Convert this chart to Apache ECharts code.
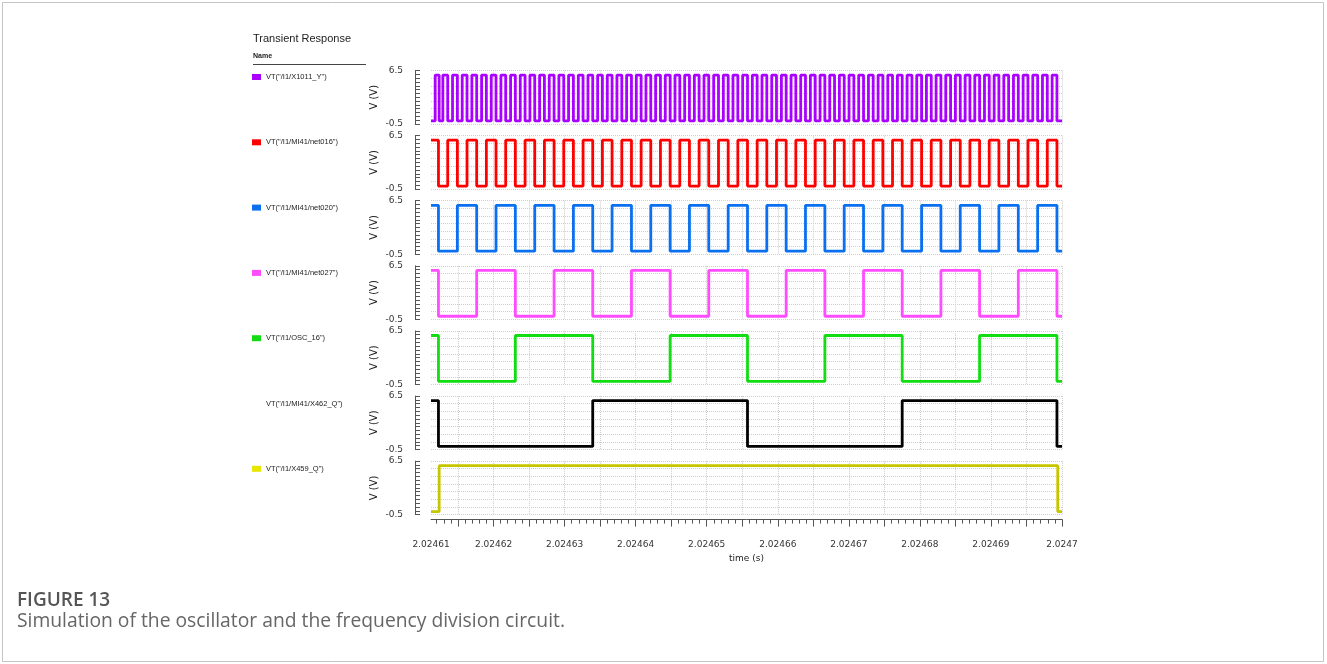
<!DOCTYPE html>
<html>
<head>
<meta charset="utf-8">
<title>Transient Response</title>
<script src="https://cdn.jsdelivr.net/npm/echarts@6/dist/echarts.min.js"></script>
<style>
  html, body { margin: 0; padding: 0; background: #ffffff; }
  #chart { width: 1327px; height: 664px; }
</style>
</head>
<body>
<div id="chart"></div>
<script>
// Time is stored in microseconds after 2.0246 s.
const TIME_ORIGIN_US = 2024600;
const timeRangeUs = [11.2, 100];
const timeLabelUs = [11.2, 20, 30, 40, 50, 60, 70, 80, 90, 100];
const timeMajorTickUs = [15, 20, 25, 30, 35, 40, 45, 50, 55, 60, 65, 70, 75, 80, 85, 90, 95, 100];
const voltRange = [-0.5, 6.5];
const voltLabels = [-0.5, 6.5];
const logicLow = -0.1;
const logicHigh = 5.9;

const signalNames = [
  'VT("/I1/X1011_Y")',
  'VT("/I1/MI41/net016")',
  'VT("/I1/MI41/net020")',
  'VT("/I1/MI41/net027")',
  'VT("/I1/OSC_16")',
  'VT("/I1/MI41/X462_Q")',
  'VT("/I1/X459_Q")'
];

// Level at the left edge of the window (1 = high, 0 = low)
const startLevels = [0, 1, 1, 1, 1, 1, 0];

// Switching instants (µs after 2.0246 s) of each waveform
const x1011Y = [11.79, 12.35, 12.87, 13.55, 14.23, 14.91, 15.59, 16.27, 16.95, 17.63, 18.32, 18.99,
  19.68, 20.35, 21.04, 21.71, 22.40, 23.07, 23.76, 24.44, 25.12, 25.80, 26.48, 27.16, 27.84, 28.52,
  29.20, 29.88, 30.56, 31.24, 31.93, 32.60, 33.29, 33.96, 34.65, 35.32, 36.01, 36.68, 37.37, 38.05,
  38.73, 39.41, 40.09, 40.77, 41.45, 42.13, 42.81, 43.49, 44.17, 44.85, 45.54, 46.21, 46.90, 47.57,
  48.26, 48.93, 49.62, 50.29, 50.98, 51.66, 52.34, 53.02, 53.70, 54.38, 55.06, 55.74, 56.42, 57.10,
  57.78, 58.46, 59.15, 59.82, 60.51, 61.18, 61.87, 62.54, 63.23, 63.90, 64.59, 65.27, 65.95, 66.63,
  67.31, 67.99, 68.67, 69.35, 70.03, 70.71, 71.39, 72.07, 72.76, 73.43, 74.12, 74.79, 75.48, 76.15,
  76.84, 77.51, 78.20, 78.88, 79.56, 80.24, 80.92, 81.60, 82.28, 82.96, 83.64, 84.32, 85.00, 85.68,
  86.37, 87.04, 87.73, 88.40, 89.09, 89.76, 90.45, 91.12, 91.81, 92.49, 93.17, 93.85, 94.53, 95.21,
  95.89, 96.57, 97.25, 97.93, 98.61, 99.29];
const net016 = [12.25, 13.55, 14.91, 16.27, 17.63, 18.99, 20.35, 21.71, 23.07, 24.44, 25.80, 27.16,
  28.52, 29.88, 31.24, 32.60, 33.96, 35.32, 36.68, 38.05, 39.41, 40.77, 42.13, 43.49, 44.85, 46.21,
  47.57, 48.93, 50.29, 51.66, 53.02, 54.38, 55.74, 57.10, 58.46, 59.82, 61.18, 62.54, 63.90, 65.27,
  66.63, 67.99, 69.35, 70.71, 72.07, 73.43, 74.79, 76.15, 77.51, 78.88, 80.24, 81.60, 82.96, 84.32,
  85.68, 87.04, 88.40, 89.76, 91.12, 92.49, 93.85, 95.21, 96.57, 97.93, 99.29];
const net020 = [12.25, 14.91, 17.63, 20.35, 23.07, 25.80, 28.52, 31.24, 33.96, 36.68, 39.41, 42.13,
  44.85, 47.57, 50.29, 53.02, 55.74, 58.46, 61.18, 63.90, 66.63, 69.35, 72.07, 74.79, 77.51, 80.24,
  82.96, 85.68, 88.40, 91.12, 93.85, 96.57, 99.29];
const net027 = [12.25, 17.63, 23.07, 28.52, 33.96, 39.41, 44.85, 50.29, 55.74, 61.18, 66.63, 72.07,
  77.51, 82.96, 88.40, 93.85, 99.29];
const osc16 = [12.25, 23.07, 33.96, 44.85, 55.74, 66.63, 77.51, 88.40, 99.29];
const x462Q = [12.25, 33.96, 55.74, 77.51, 99.29];
const x459Q = [12.35, 99.40];

const switchTimes = [x1011Y, net016, net020, net027, osc16, x462Q, x459Q];

const traceColors = ['#aa00ff', '#ff0000', '#0a70f0', '#ff4cff', '#12dd12', '#000000', '#c6c600'];
const keyColors = ['#aa00ff', '#ff0000', '#0a70f0', '#ff4cff', '#12dd12', 'rgba(0,0,0,0)', '#e6e600'];

// Turn a list of switching instants into a square-wave polyline.
function squareWave(startLevel, times) {
  let lvl = startLevel ? logicHigh : logicLow;
  const pts = [[timeRangeUs[0], lvl]];
  times.forEach(function (t) {
    pts.push([t, lvl]);
    lvl = (lvl === logicHigh) ? logicLow : logicHigh;
    pts.push([t, lvl]);
  });
  pts.push([timeRangeUs[1], lvl]);
  return pts;
}

function timeLabel(v) {
  return ((TIME_ORIGIN_US + v) / 1e6).toFixed(5).replace(/0+$/, '');
}

const minorTickUs = [];
for (let t = Math.ceil(timeRangeUs[0]); t <= timeRangeUs[1]; t += 1) minorTickUs.push(t);

const PANEL_TOP = 70.5, PANEL_STEP = 65.1, PANEL_H = 53.5;
const AXIS_FONT = 'DejaVu Sans';
const axisInk = '#555555';
const gridInk = '#cfcfcf';

const grids = [], xAxes = [], yAxes = [], series = [];
signalNames.forEach(function (name, i) {
  const last = i === signalNames.length - 1;
  grids.push({ left: 431, right: 265, top: PANEL_TOP + PANEL_STEP * i, height: PANEL_H });
  xAxes.push({
    gridIndex: i, type: 'value', position: 'bottom', min: timeRangeUs[0], max: timeRangeUs[1],
    offset: last ? 5 : 0,
    axisLine: { show: last, onZero: false, lineStyle: { color: axisInk, width: 1 } },
    axisTick: { show: last, customValues: timeMajorTickUs, length: 7, lineStyle: { color: axisInk } },
    axisLabel: {
      show: last, customValues: timeLabelUs, formatter: timeLabel, margin: 21,
      fontSize: 9, fontFamily: AXIS_FONT, color: '#333'
    },
    splitLine: { show: true, lineStyle: { type: 'dotted', color: gridInk, width: 1 } },
    name: last ? 'time (s)' : '', nameLocation: 'middle', nameGap: 35,
    nameTextStyle: { fontSize: 9, fontFamily: AXIS_FONT, color: '#222' }
  });
  yAxes.push({
    gridIndex: i, type: 'value', min: voltRange[0], max: voltRange[1], interval: 1,
    offset: 16,
    axisLine: { show: true, onZero: false, lineStyle: { color: axisInk, width: 1 } },
    axisTick: { show: true, inside: true, length: 5, lineStyle: { color: axisInk } },
    minorTick: { show: true, splitNumber: 2, length: 5, lineStyle: { color: axisInk } },
    axisLabel: {
      formatter: function (v) { return voltLabels.indexOf(v) >= 0 ? String(v) : ''; },
      margin: 12, fontSize: 9, fontFamily: AXIS_FONT, color: '#333'
    },
    splitLine: { show: true, lineStyle: { type: 'dotted', color: gridInk, width: 1 } },
    name: 'V (V)', nameLocation: 'middle', nameGap: 36, nameRotate: 90,
    nameTextStyle: { fontSize: 10, fontFamily: AXIS_FONT, color: '#222' }
  });
  series.push({
    name: name, type: 'line', xAxisIndex: i, yAxisIndex: i,
    data: squareWave(startLevels[i], switchTimes[i]),
    showSymbol: false, symbol: 'none', animation: false,
    lineStyle: { color: traceColors[i], width: 2.8 },
    itemStyle: { color: traceColors[i] }
  });
});

// Minor time ticks under the bottom panel
xAxes.push({
  gridIndex: signalNames.length - 1, type: 'value', position: 'bottom',
  min: timeRangeUs[0], max: timeRangeUs[1],
  offset: 5,
  axisLine: { show: false, onZero: false },
  axisTick: { show: true, customValues: minorTickUs, length: 4, lineStyle: { color: axisInk } },
  axisLabel: { show: false },
  splitLine: { show: false }
});

const chart = echarts.init(document.getElementById('chart'), null, { renderer: 'canvas' });
chart.setOption({
  backgroundColor: '#ffffff',
  animation: false,
  grid: grids,
  xAxis: xAxes,
  yAxis: yAxes,
  series: series,
  legend: {
    orient: 'vertical', left: 252, top: 73, padding: 0,
    itemWidth: 9, itemHeight: 6, itemGap: 57.3, icon: 'rect', selectedMode: false,
    textStyle: { fontSize: 7.5, lineHeight: 8, color: '#222', fontFamily: 'Liberation Sans' },
    data: signalNames.map(function (n, i) {
      return { name: n, itemStyle: { color: keyColors[i] } };
    })
  },
  graphic: [
    { type: 'rect', silent: true, shape: { x: 2.5, y: 2.5, width: 1321, height: 659 },
      style: { fill: 'none', stroke: '#c4c4c4', lineWidth: 1 } },
    { type: 'text', left: 253, top: 33,
      style: { text: 'Transient Response', font: '500 11px "Liberation Sans"', fill: '#222' } },
    { type: 'text', left: 253, top: 53,
      style: { text: 'Name', font: 'bold 7px "Liberation Sans"', fill: '#222' } },
    { type: 'line', silent: true, shape: { x1: 253, y1: 64.5, x2: 366, y2: 64.5 },
      style: { stroke: '#444', lineWidth: 1 } },
    { type: 'text', left: 17, top: 591,
      style: { text: 'FIGURE 13', font: '600 19px "Open Sans"', fill: '#555' } },
    { type: 'text', left: 17, top: 612,
      style: { text: 'Simulation of the oscillator and the frequency division circuit.',
        font: '19.3px "Open Sans"', fill: '#666' } }
  ]
});
</script>
</body>
</html>
